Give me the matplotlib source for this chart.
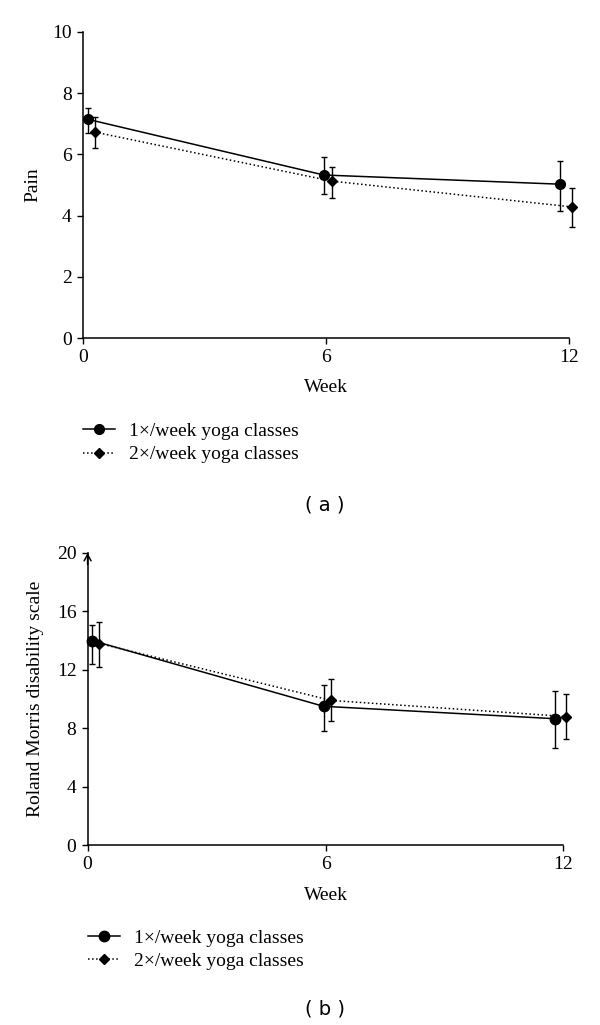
import matplotlib
matplotlib.use("Agg")
import matplotlib.pyplot as plt
from matplotlib.lines import Line2D

plt.rcParams['font.family'] = ['Liberation Serif', 'DejaVu Serif']

# panel (a) pain
weeks_1 = [0.12, 5.95, 11.79]
weeks_2 = [0.30, 6.15, 12.07]
pain_1 = [7.15, 5.33, 5.03]
pain_1_err_lo = [0.45, 0.62, 0.87]
pain_1_err_hi = [0.37, 0.59, 0.77]
pain_2 = [6.73, 5.13, 4.29]
pain_2_err_lo = [0.53, 0.56, 0.65]
pain_2_err_hi = [0.49, 0.46, 0.62]

# panel (b) Roland Morris
rm_1 = [14.0, 9.5, 8.65]
rm_1_err_lo = [1.6, 1.7, 2.0]
rm_1_err_hi = [1.1, 1.45, 1.9]
rm_2 = [13.8, 9.9, 8.8]
rm_2_err_lo = [1.6, 1.4, 1.55]
rm_2_err_hi = [1.5, 1.45, 1.55]

labels = ['1\u00d7/week yoga classes', '2\u00d7/week yoga classes']

fig = plt.figure(figsize=(6, 10.25), dpi=100)


def draw_panel(ax, y1, lo1, hi1, y2, lo2, hi2, ms1, ms2):
    ax.errorbar(weeks_1, y1, yerr=[lo1, hi1], color='black', lw=1.1,
                marker='o', ms=ms1, capsize=2.3, elinewidth=1.0,
                ls='-', clip_on=False, zorder=3)
    ax.errorbar(weeks_2, y2, yerr=[lo2, hi2], color='black', lw=1.1,
                marker='D', ms=ms2, capsize=2.3, elinewidth=1.0,
                ls=':', clip_on=False, zorder=3)
    for s in ['top', 'right']:
        ax.spines[s].set_visible(False)
    ax.spines['left'].set_linewidth(1.1)
    ax.spines['bottom'].set_linewidth(1.1)
    ax.set_xlim(0, 12)
    ax.set_xticks([0, 6, 12])
    ax.tick_params(labelsize=14, length=4, width=1, direction='out', pad=4)
    handles = [Line2D([], [], color='black', lw=1.1, ls='-', marker='o', ms=ms1),
               Line2D([], [], color='black', lw=1.1, ls=':', marker='D', ms=ms2)]
    return handles


# (a)
ax1 = fig.add_axes([0.138, 0.670, 0.81, 0.2988])
h = draw_panel(ax1, pain_1, pain_1_err_lo, pain_1_err_hi,
               pain_2, pain_2_err_lo, pain_2_err_hi, 7, 5)
ax1.set_ylim(0, 10)
ax1.set_yticks([0, 2, 4, 6, 8, 10])
ax1.set_ylabel('Pain', fontsize=14, labelpad=8)
ax1.set_xlabel('Week', fontsize=14, labelpad=9)
fig.legend(h, labels, loc='upper left', bbox_to_anchor=(0.138, 0.588),
           frameon=False, fontsize=14, handlelength=1.65, handletextpad=0.75,
           labelspacing=0.3, borderaxespad=0, borderpad=0)
fig.text(0.542, 0.507, '( a )', ha='center', va='center', fontsize=14,
         family='DejaVu Sans')

# (b)
ax2 = fig.add_axes([0.146, 0.1756, 0.793, 0.2849])
g = draw_panel(ax2, rm_1, rm_1_err_lo, rm_1_err_hi,
               rm_2, rm_2_err_lo, rm_2_err_hi, 7.5, 5.5)
ax2.set_ylim(0, 20)
ax2.set_yticks([0, 4, 8, 12, 16, 20])
ax2.set_ylabel('Roland Morris disability scale', fontsize=14, labelpad=9)
ax2.set_xlabel('Week', fontsize=14, labelpad=10)
ax2.annotate('', xy=(0, 1.0), xytext=(0, 0.96), xycoords='axes fraction',
             arrowprops=dict(arrowstyle='->,head_length=0.45,head_width=0.25',
                             lw=1.1, color='black', shrinkA=0, shrinkB=0))
fig.legend(g, labels, loc='upper left', bbox_to_anchor=(0.146, 0.0935),
           frameon=False, fontsize=14, handlelength=1.65, handletextpad=0.75,
           labelspacing=0.3, borderaxespad=0, borderpad=0)
fig.text(0.542, 0.0156, '( b )', ha='center', va='center', fontsize=14,
         family='DejaVu Sans')

fig.savefig('out.png', dpi=100)
